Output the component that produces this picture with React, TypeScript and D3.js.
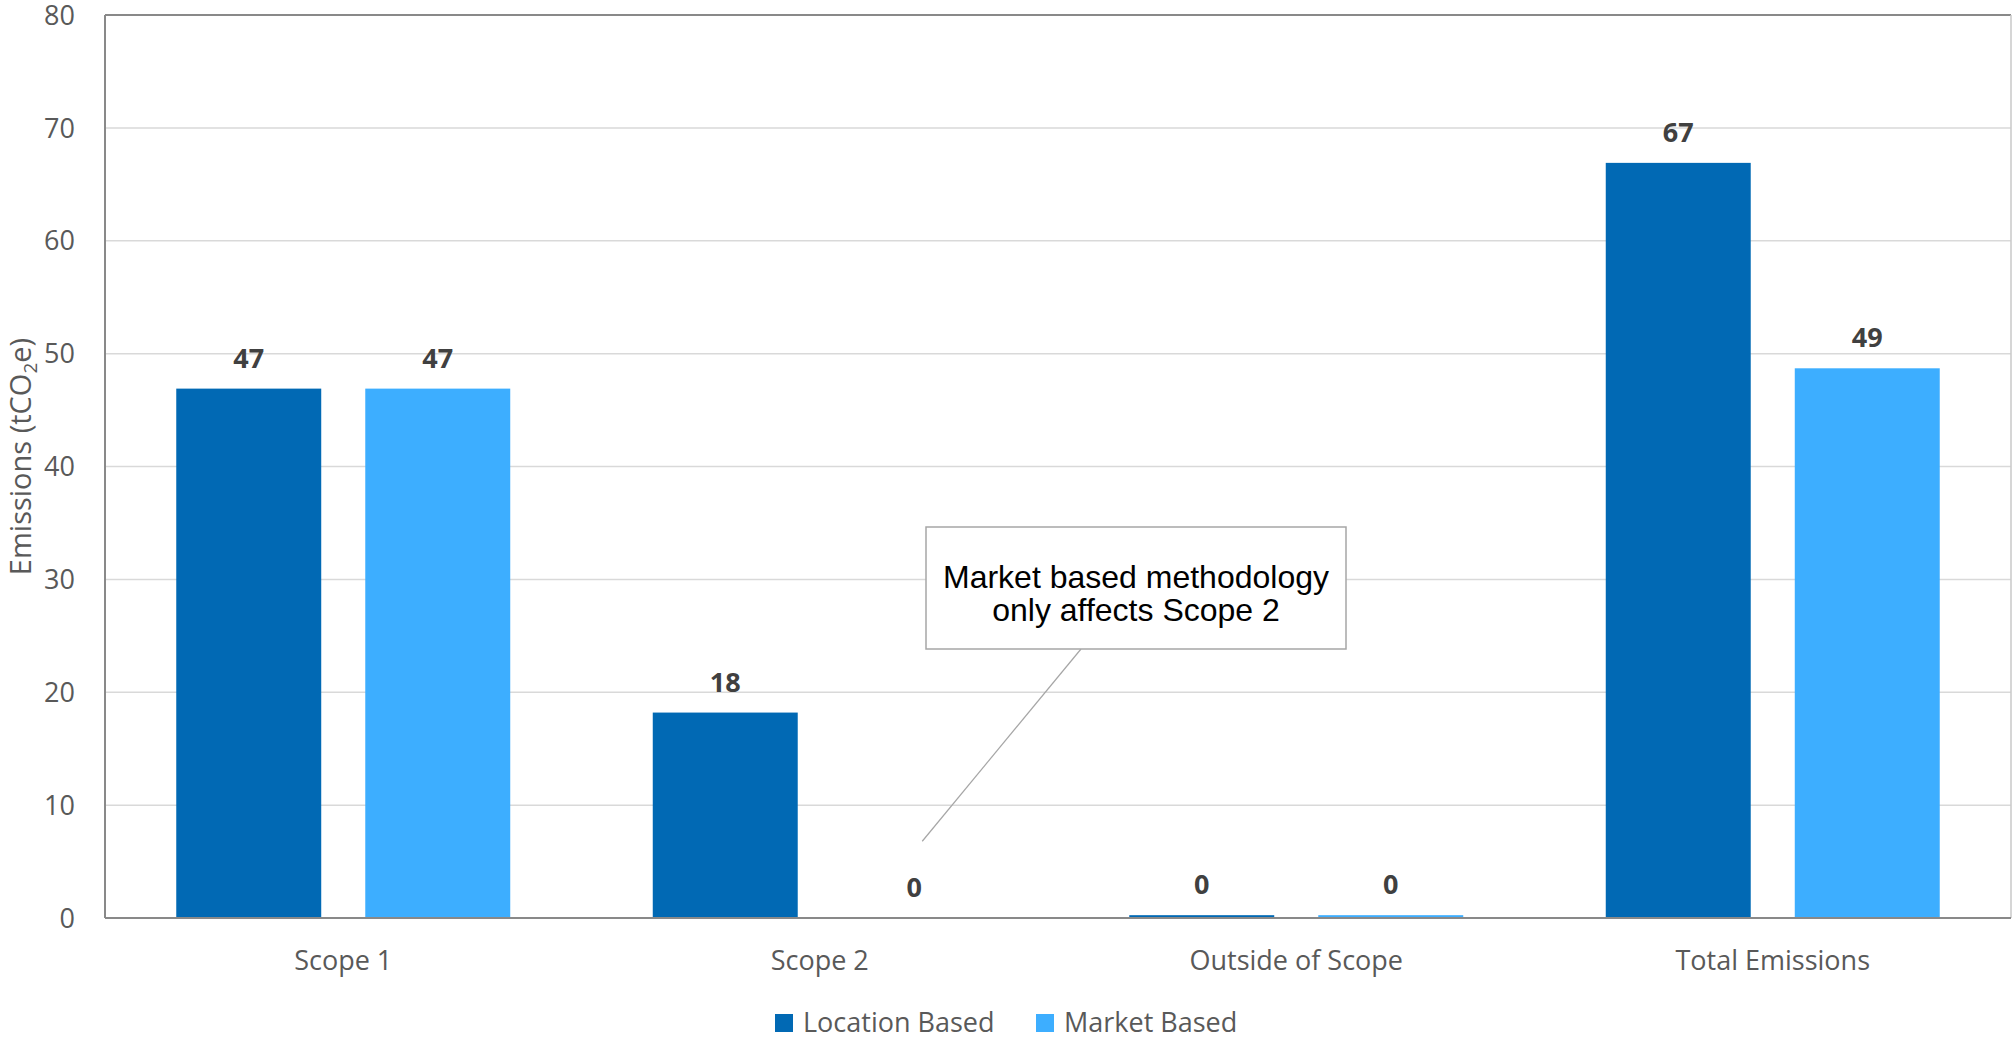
import React from 'react';
import * as d3 from 'd3';

const categories = ['Scope 1', 'Scope 2', 'Outside of Scope', 'Total Emissions'];
const seriesNames = ['Location Based', 'Market Based'];
const locationBased = [46.9, 18.2, 0.25, 66.9];
const marketBased = [46.9, 0, 0.25, 48.7];
const yTicks = [0, 10, 20, 30, 40, 50, 60, 70, 80];
const colors = ['#0169B4', '#3DAEFF'];

const W = 2013;
const H = 1038;
const plot = { left: 105, right: 2011, top: 15, bottom: 918 };
const tickFont = "'Open Sans', sans-serif";

const App: React.FC = () => {
  const x0 = d3.scaleBand<string>().domain(categories).range([plot.left, plot.right]).padding(0);
  const x1 = d3
    .scaleBand<string>()
    .domain(seriesNames)
    .range([0, x0.bandwidth()])
    .paddingInner(0.233)
    .paddingOuter(0.377);
  const y = d3.scaleLinear().domain([0, 80]).range([plot.bottom, plot.top]);

  const rows = categories.map((c, i) => ({ cat: c, vals: [locationBased[i], marketBased[i]] }));

  // callout anchored on the Scope 2 / Market bar
  const anchorX = (x0('Scope 2') ?? 0) + (x1('Market Based') ?? 0) + x1.bandwidth() / 2 + 8;
  const anchorY = y(6.8);
  const box = { x: 926, y: 527, w: 420, h: 122 };

  return (
    <svg width={W} height={H} style={{ position: 'absolute', left: 0, top: 0, background: '#fff' }}>
      {/* gridlines */}
      {yTicks
        .filter((t) => t > 0 && t < 80)
        .map((t) => (
          <line key={t} x1={plot.left} x2={plot.right} y1={y(t)} y2={y(t)} stroke="#d9d9d9" strokeWidth={1.5} />
        ))}

      {/* bars */}
      {rows.map((r) =>
        r.vals.map((v, j) => {
          const bx = (x0(r.cat) ?? 0) + (x1(seriesNames[j]) ?? 0);
          return (
            <g key={r.cat + j}>
              {v > 0 && (
                <rect x={bx} y={y(v)} width={x1.bandwidth()} height={y(0) - y(v)} fill={colors[j]} />
              )}
              <text
                x={bx + x1.bandwidth() / 2}
                y={y(v) - 21}
                textAnchor="middle"
                fontFamily={tickFont}
                fontWeight="bold"
                fontSize={27}
                fill="#404040"
              >
                {Math.round(v)}
              </text>
            </g>
          );
        })
      )}

      {/* plot frame */}
      <line x1={plot.left} x2={plot.right} y1={plot.top} y2={plot.top} stroke="#898989" strokeWidth={2} />
      <line x1={plot.right} x2={plot.right} y1={plot.top} y2={plot.bottom} stroke="#c8c8c8" strokeWidth={1.5} />
      <line x1={plot.left} x2={plot.left} y1={plot.top} y2={plot.bottom} stroke="#898989" strokeWidth={2} />
      <line x1={plot.left} x2={plot.right} y1={plot.bottom} y2={plot.bottom} stroke="#898989" strokeWidth={2} />

      {/* y ticks */}
      {yTicks.map((t) => (
        <text
          key={t}
          x={75}
          y={y(t)}
          dy="0.36em"
          textAnchor="end"
          fontFamily={tickFont}
          fontSize={27}
          fill="#595959"
        >
          {t}
        </text>
      ))}

      {/* y title */}
      <text
        transform={`translate(31, ${(plot.top + plot.bottom) / 2 - 10}) rotate(-90)`}
        textAnchor="middle"
        fontFamily={tickFont}
        fontSize={29}
        fill="#595959"
      >
        Emissions (tCO
        <tspan fontSize={19} dy={6}>
          2
        </tspan>
        <tspan dy={-6}>e)</tspan>
      </text>

      {/* category labels */}
      {categories.map((c) => (
        <text
          key={c}
          x={(x0(c) ?? 0) + x0.bandwidth() / 2}
          y={970}
          textAnchor="middle"
          fontFamily={tickFont}
          fontSize={27}
          fill="#595959"
        >
          {c}
        </text>
      ))}

      {/* callout */}
      <line x1={1081} y1={box.y + box.h} x2={anchorX} y2={anchorY} stroke="#a6a6a6" strokeWidth={1.2} />
      <rect x={box.x} y={box.y} width={box.w} height={box.h} fill="#fff" stroke="#a6a6a6" strokeWidth={1.5} />
      <text
        x={box.x + box.w / 2}
        textAnchor="middle"
        fontFamily="'Liberation Sans', Arial, sans-serif"
        fontSize={32}
        fill="#000"
      >
        <tspan x={box.x + box.w / 2} y={588}>
          Market based methodology
        </tspan>
        <tspan x={box.x + box.w / 2} y={621}>
          only affects Scope 2
        </tspan>
      </text>

      {/* legend */}
      {seriesNames.map((s, i) => {
        const lx = [775, 1036][i];
        return (
          <g key={s}>
            <rect x={lx} y={1014} width={18} height={18} fill={colors[i]} />
            <text x={lx + 28} y={1032} fontFamily={tickFont} fontSize={27} fill="#595959">
              {s}
            </text>
          </g>
        );
      })}
    </svg>
  );
};

export default App;
